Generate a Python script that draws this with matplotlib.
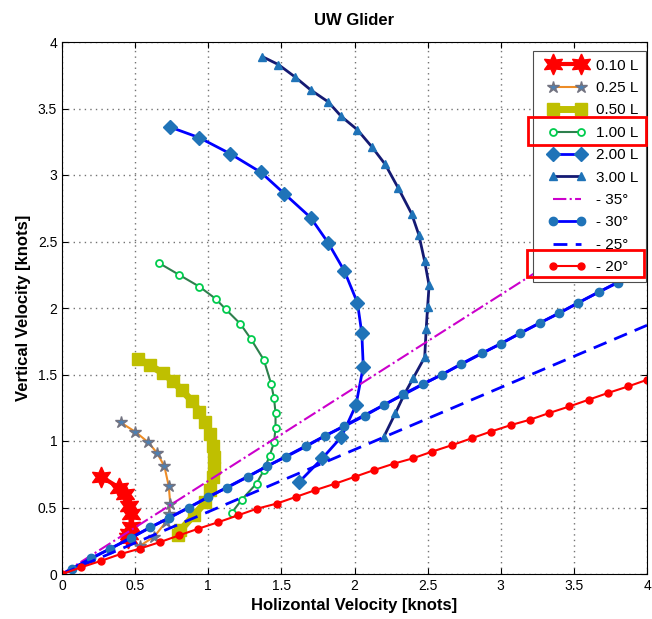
import matplotlib
matplotlib.use('Agg')
import matplotlib.pyplot as plt
from matplotlib.patches import Rectangle
from matplotlib.legend_handler import HandlerLine2D

plt.rcParams['font.family'] = ['Liberation Sans', 'DejaVu Sans']

# glide polar curves (horizontal, vertical) [knots]
l010_x = [0.27, 0.39, 0.43, 0.46, 0.47, 0.47, 0.46, 0.45]
l010_y = [0.73, 0.65, 0.60, 0.51, 0.45, 0.35, 0.30, 0.27]

l025_x = [0.40, 0.50, 0.59, 0.65, 0.70, 0.73, 0.74, 0.73, 0.71, 0.63, 0.53]
l025_y = [1.14, 1.07, 0.99, 0.91, 0.81, 0.66, 0.53, 0.45, 0.39, 0.28, 0.21]

l050_x = [0.52, 0.60, 0.69, 0.76, 0.82, 0.89, 0.94, 0.98, 1.01, 1.03, 1.04, 1.04, 1.03,
          1.01, 0.98, 0.90, 0.81, 0.79]
l050_y = [1.62, 1.57, 1.51, 1.45, 1.38, 1.30, 1.22, 1.14, 1.05, 0.96, 0.88, 0.80, 0.73,
          0.63, 0.54, 0.44, 0.33, 0.29]

l100_x = [0.66, 0.80, 0.94, 1.05, 1.12, 1.22, 1.29, 1.38, 1.43, 1.45, 1.46, 1.46, 1.45,
          1.42, 1.38, 1.33, 1.23, 1.16]
l100_y = [2.34, 2.25, 2.16, 2.07, 1.99, 1.88, 1.77, 1.61, 1.43, 1.32, 1.21, 1.10, 0.99,
          0.89, 0.78, 0.68, 0.56, 0.46]

l200_x = [0.74, 0.94, 1.15, 1.36, 1.52, 1.70, 1.82, 1.93, 2.02, 2.05, 2.06, 2.01, 1.91,
          1.78, 1.62]
l200_y = [3.36, 3.28, 3.16, 3.02, 2.86, 2.68, 2.49, 2.28, 2.04, 1.81, 1.56, 1.27, 1.03,
          0.87, 0.69]

l300_x = [1.37, 1.48, 1.59, 1.70, 1.82, 1.91, 2.02, 2.12, 2.21, 2.30, 2.39, 2.44, 2.48,
          2.51, 2.50, 2.49, 2.48, 2.40, 2.34, 2.28, 2.20]
l300_y = [3.89, 3.83, 3.74, 3.64, 3.55, 3.44, 3.34, 3.21, 3.08, 2.90, 2.71, 2.55, 2.35,
          2.17, 2.01, 1.84, 1.63, 1.47, 1.35, 1.21, 1.03]

# glide angle lines (end points, then marker points)
a35_x = [0, 4]
a35_y = [0, 2.80]

a30_x = [0, 4]
a30_y = [0, 2.31]
a30_mx = [0.07, 0.20, 0.33, 0.47, 0.60, 0.73, 0.87, 1.00, 1.13, 1.27, 1.40, 1.53, 1.67,
          1.80, 1.93, 2.07, 2.20, 2.33, 2.47, 2.60, 2.73, 2.87, 3.00, 3.13, 3.27, 3.40,
          3.53, 3.67, 3.80, 3.93]
a30_my = [0.04, 0.12, 0.19, 0.27, 0.35, 0.42, 0.50, 0.58, 0.65, 0.73, 0.81, 0.88, 0.96,
          1.04, 1.11, 1.19, 1.27, 1.35, 1.43, 1.50, 1.58, 1.66, 1.73, 1.81, 1.89, 1.96,
          2.04, 2.12, 2.19, 2.27]

a25_x = [0, 4]
a25_y = [0, 1.87]

a20_x = [0, 0.13, 0.27, 0.40, 0.53, 0.67, 0.80, 0.93, 1.07, 1.20, 1.33, 1.47, 1.60, 1.73,
         1.87, 2.00, 2.13, 2.27, 2.40, 2.53, 2.67, 2.80, 2.93, 3.07, 3.20, 3.33, 3.47,
         3.60, 3.73, 3.87, 4.00]
a20_y = [0, 0.05, 0.10, 0.15, 0.19, 0.24, 0.29, 0.34, 0.39, 0.44, 0.49, 0.53, 0.58, 0.63,
         0.68, 0.73, 0.78, 0.83, 0.87, 0.92, 0.97, 1.02, 1.07, 1.12, 1.16, 1.21, 1.26,
         1.31, 1.36, 1.41, 1.46]

ticks = [0, 0.5, 1, 1.5, 2, 2.5, 3, 3.5, 4]
tick_labels = ['0', '0.5', '1', '1.5', '2', '2.5', '3', '3.5', '4']

steel = (0.12, 0.45, 0.72)


def main():
    fig = plt.figure(figsize=(6.52, 6.19), dpi=100)
    ax = fig.add_axes([62 / 652, 45 / 619, 585 / 652, 532 / 619])

    # curves
    ax.plot(l010_x, l010_y, color='red', lw=3, marker=(6, 1, 0), ms=15,
            mfc='red', mec='red', label='0.10 L')
    ax.plot(l025_x, l025_y, color=(0.93, 0.55, 0.15), lw=1.5, marker='*', ms=9,
            mfc=(0.3, 0.5, 0.7), mec=(0.45, 0.45, 0.5), label='0.25 L')
    ax.plot(l050_x, l050_y, color=(0.75, 0.75, 0.0), lw=5, marker='s', ms=9,
            mfc=(0.75, 0.75, 0.0), mec=(0.75, 0.75, 0.0), label='0.50 L')
    ax.plot(l100_x, l100_y, color=(0.18, 0.5, 0.3), lw=1.5, marker='o', ms=5,
            mfc='white', mec=(0.0, 0.8, 0.3), mew=1.3, label='1.00 L')
    ax.plot(l200_x, l200_y, color='blue', lw=2, marker='D', ms=7,
            mfc=steel, mec=steel, label='2.00 L')
    ax.plot(l300_x, l300_y, color=(0.08, 0.1, 0.45), lw=2, marker='^', ms=6,
            mfc=steel, mec=steel, label='3.00 L')

    # angle lines
    ax.plot(a35_x, a35_y, color=(0.8, 0.0, 0.8), lw=1.5, ls='-.', label='- 35°')
    ax.plot(a30_x, a30_y, color='blue', lw=2)
    ax.plot(a30_mx, a30_my, color='blue', lw=2, marker='o', ms=6,
            mfc=steel, mec=steel, label='- 30°')
    ax.plot(a25_x, a25_y, color='blue', lw=2, ls=(0, (5, 3)), label='- 25°')
    ax.plot(a20_x, a20_y, color='red', lw=1.5, marker='o', ms=5,
            mfc='red', mec='red', label='- 20°')

    ax.set_xlim(0, 4)
    ax.set_ylim(0, 4)
    ax.set_xticks(ticks)
    ax.set_xticklabels(tick_labels)
    ax.set_yticks(ticks)
    ax.set_yticklabels(tick_labels)
    ax.tick_params(direction='in', top=True, right=True, labelsize=10, length=4)
    ax.grid(True, ls=(0, (1, 3)), color='0.45', lw=1)
    for s in ax.spines.values():
        s.set_linewidth(0.8)

    ax.set_title('UW Glider', fontsize=12, fontweight='bold', pad=12)
    ax.set_xlabel('Holizontal Velocity [knots]', fontsize=12, fontweight='bold', labelpad=4)
    ax.set_ylabel('Vertical Velocity [knots]', fontsize=12, fontweight='bold', labelpad=5)

    leg = ax.legend(loc='upper right', bbox_to_anchor=(646 / 652, 1 - 51 / 619),
                    bbox_transform=fig.transFigure, borderaxespad=0, fontsize=11,
                    handlelength=3.4, handletextpad=0.2, labelspacing=0.55,
                    borderpad=0.5, fancybox=False, framealpha=1, edgecolor='0.3',
                    handler_map={plt.Line2D: HandlerLine2D(numpoints=2, marker_pad=0.8)})
    leg.get_frame().set_linewidth(0.8)

    # red highlight boxes
    fig.add_artist(Rectangle((528 / 652, 1 - 145 / 619), 118 / 652, 28 / 619,
                             transform=fig.transFigure, fill=False, ec='red', lw=2))
    fig.add_artist(Rectangle((527 / 652, 1 - 277 / 619), 117 / 652, 27 / 619,
                             transform=fig.transFigure, fill=False, ec='red', lw=2))

    fig.savefig('out.png', dpi=100)


if __name__ == '__main__':
    main()
